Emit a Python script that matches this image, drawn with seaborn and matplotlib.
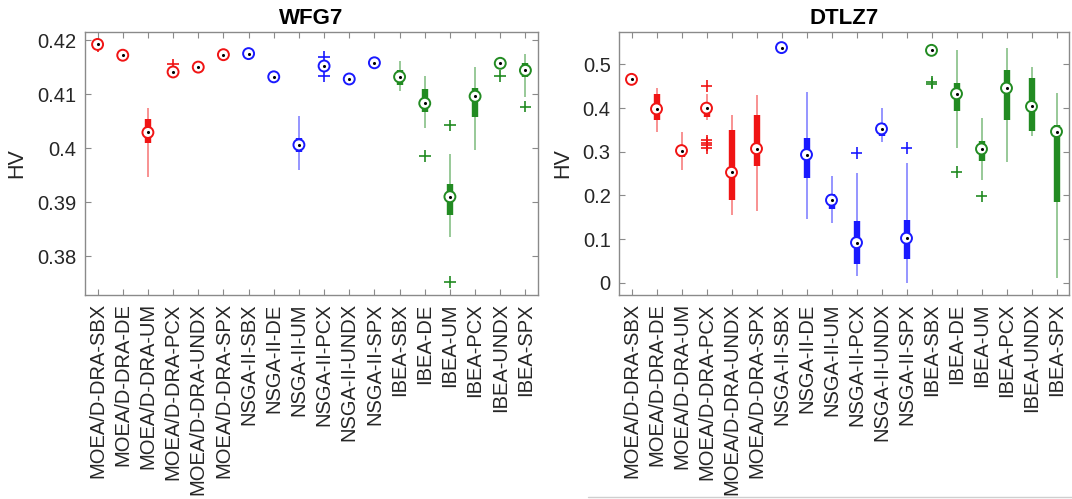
import numpy as np
import pandas as pd
import matplotlib
matplotlib.use("Agg")
import matplotlib.pyplot as plt
from matplotlib.lines import Line2D
import seaborn as sns

categories = ["MOEA/D-DRA-SBX", "MOEA/D-DRA-DE", "MOEA/D-DRA-UM", "MOEA/D-DRA-PCX",
              "MOEA/D-DRA-UNDX", "MOEA/D-DRA-SPX", "NSGA-II-SBX", "NSGA-II-DE",
              "NSGA-II-UM", "NSGA-II-PCX", "NSGA-II-UNDX", "NSGA-II-SPX",
              "IBEA-SBX", "IBEA-DE", "IBEA-UM", "IBEA-PCX", "IBEA-UNDX", "IBEA-SPX"]
groups = ["MOEA/D-DRA"] * 6 + ["NSGA-II"] * 6 + ["IBEA"] * 6
palette = {"MOEA/D-DRA": "#f01414", "NSGA-II": "#1a1aff", "IBEA": "#228b22"}

# WFG7
wfg7_median = [0.4192, 0.4172, 0.4029, 0.4141, 0.4150, 0.4173, 0.4175, 0.4132, 0.4006,
               0.4152, 0.4128, 0.4158, 0.4132, 0.4083, 0.3910, 0.4096, 0.4157, 0.4144]
wfg7_q1 = [0.4191, 0.4171, 0.4009, 0.4140, 0.4149, 0.4172, 0.4174, 0.4131, 0.3992,
           0.4151, 0.4127, 0.4157, 0.4116, 0.4066, 0.3876, 0.4057, 0.4156, 0.4132]
wfg7_q3 = [0.4193, 0.4173, 0.4054, 0.4142, 0.4151, 0.4174, 0.4176, 0.4133, 0.4018,
           0.4153, 0.4129, 0.4159, 0.4144, 0.4110, 0.3933, 0.4111, 0.4158, 0.4157]
wfg7_low = [0.4190, 0.4170, 0.3947, 0.4137, 0.4148, 0.4171, 0.4173, 0.4131, 0.3959,
            0.4150, 0.4126, 0.4156, 0.4105, 0.4037, 0.3835, 0.3997, 0.4155, 0.4095]
wfg7_high = [0.4194, 0.4174, 0.4074, 0.4143, 0.4152, 0.4175, 0.4177, 0.4138, 0.4059,
             0.4154, 0.4130, 0.4160, 0.4161, 0.4134, 0.3989, 0.4150, 0.4160, 0.4175]
wfg7_outliers = [[0.4188], [], [], [0.4155], [], [], [], [], [], [0.4169, 0.4134], [], [],
                 [], [0.3985], [0.4042, 0.3752], [], [0.4134], [0.4077]]
wfg7_yticks = [0.38, 0.39, 0.40, 0.41, 0.42]
wfg7_yticklabels = ["0.38", "0.39", "0.4", "0.41", "0.42"]

# DTLZ7
dtlz7_median = [0.4656, 0.398, 0.3025, 0.3997, 0.2527, 0.307, 0.5383, 0.2933, 0.1892,
                0.0919, 0.3523, 0.102, 0.532, 0.4327, 0.3063, 0.4456, 0.4035, 0.3461]
dtlz7_q1 = [0.4650, 0.373, 0.287, 0.379, 0.190, 0.268, 0.5378, 0.2398, 0.1686,
            0.0436, 0.3369, 0.0537, 0.530, 0.3927, 0.2795, 0.373, 0.3468, 0.186]
dtlz7_q3 = [0.4662, 0.4327, 0.305, 0.410, 0.3507, 0.383, 0.5388, 0.3308, 0.203,
            0.1417, 0.3652, 0.1433, 0.534, 0.457, 0.3254, 0.4862, 0.4695, 0.36]
dtlz7_low = [0.4645, 0.3445, 0.2588, 0.3737, 0.1548, 0.1647, 0.5375, 0.147, 0.1364,
             0.0154, 0.3215, 0.0, 0.527, 0.3087, 0.2352, 0.2756, 0.3369, 0.0101]
dtlz7_high = [0.4667, 0.4456, 0.3445, 0.4327, 0.383, 0.4304, 0.5392, 0.4364, 0.2434,
              0.2503, 0.3997, 0.2742, 0.538, 0.532, 0.3776, 0.5383, 0.4938, 0.434]
dtlz7_outliers = [[0.4665], [], [], [0.451, 0.326, 0.320, 0.315, 0.309], [], [], [], [], [],
                  [0.2972], [], [0.3087], [0.459, 0.456], [0.2542], [0.1975], [], [], []]
dtlz7_yticks = [0.0, 0.1, 0.2, 0.3, 0.4, 0.5]
dtlz7_yticklabels = ["0", "0.1", "0.2", "0.3", "0.4", "0.5"]

sns.set_theme(style="ticks")
plt.rcParams["font.family"] = ["Liberation Sans", "DejaVu Sans"]

TEXT = "#262626"
SPINE = "#8a8a8a"

fig = plt.figure(figsize=(10.72, 4.99), dpi=100)
ax1 = fig.add_axes([85 / 1072, 1 - 295 / 499, 453 / 1072, 263 / 499])
ax2 = fig.add_axes([619 / 1072, 1 - 295 / 499, 450 / 1072, 263 / 499])


def draw(ax, title, med, q1, q3, lo, hi, outs, yticks, yticklabels, ylim):
    x = np.arange(1, len(categories) + 1)
    cols = [palette[g] for g in groups]
    ax.vlines(x, lo, hi, colors=cols, lw=1.3, alpha=0.5, zorder=2)
    ax.vlines(x, q1, q3, colors=cols, lw=4.6, capstyle="butt", zorder=2)
    rows = [(xi, v, g) for xi, vals, g in zip(x, outs, groups) for v in vals]
    odf = pd.DataFrame(rows, columns=["x", "v", "g"])
    sns.scatterplot(data=odf, x="x", y="v", hue="g", palette=palette, marker="+",
                    s=70, linewidth=1.2, legend=False, ax=ax, zorder=3)
    ax.scatter(x, med, s=62, facecolors="white", edgecolors=cols, linewidths=1.4, zorder=4)
    ax.scatter(x, med, s=5, c="black", linewidths=0, zorder=5)
    ax.set_xlim(0.5, len(categories) + 0.5)
    ax.set_ylim(*ylim)
    ax.set_xticks(x)
    ax.set_xticklabels(categories, rotation=90, fontsize=14.5, color=TEXT)
    ax.set_yticks(yticks)
    ax.set_yticklabels(yticklabels, fontsize=14.5, color=TEXT)
    ax.set_xlabel("")
    ax.set_ylabel("HV", fontsize=15.5, color=TEXT, labelpad=7)
    ax.set_title(title, fontsize=16, fontweight="bold", color="black", pad=6)
    ax.tick_params(axis="both", direction="in", length=4, width=0.8, color=SPINE,
                   top=True, right=True, pad=6)
    for s in ax.spines.values():
        s.set_visible(True)
        s.set_color(SPINE)
        s.set_linewidth(1.0)


draw(ax1, "WFG7", wfg7_median, wfg7_q1, wfg7_q3, wfg7_low, wfg7_high, wfg7_outliers,
     wfg7_yticks, wfg7_yticklabels, (0.3728, 0.4215))
draw(ax2, "DTLZ7", dtlz7_median, dtlz7_q1, dtlz7_q3, dtlz7_low, dtlz7_high, dtlz7_outliers,
     dtlz7_yticks, dtlz7_yticklabels, (-0.028, 0.574))

fig.add_artist(Line2D([588 / 1072, 1.0], [2 / 499, 2 / 499], color="#cfcfcf", lw=1.0))

fig.savefig("out.png", dpi=100)
